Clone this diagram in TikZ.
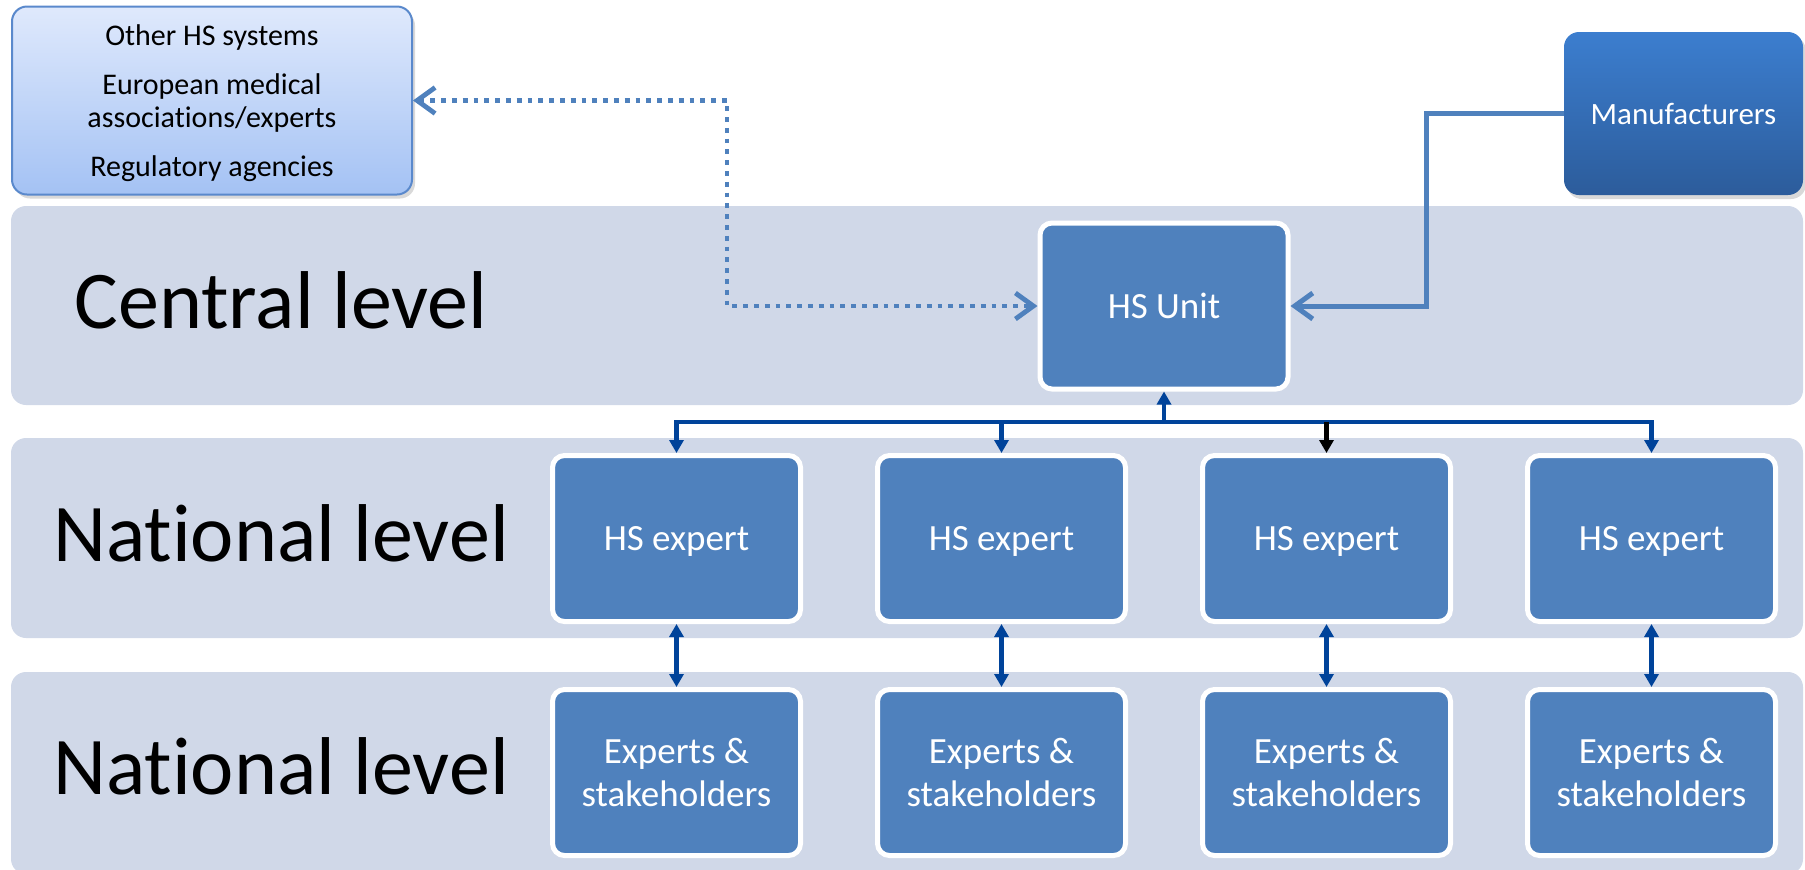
\documentclass[tikz,border=0pt]{standalone}
\usepackage{fontspec}
\setmainfont{Carlito}[Ligatures=NoCommon]
\usetikzlibrary{positioning,arrows.meta,shadows}

\definecolor{bandgrey}{HTML}{D0D8E8}
\definecolor{hsblue}{HTML}{4F81BD}
\definecolor{busblue}{HTML}{00439A}
\definecolor{othertop}{HTML}{DFE9FC}
\definecolor{otherbottom}{HTML}{A4C2F4}
\definecolor{otherline}{HTML}{5A89CC}
\definecolor{manutop}{HTML}{3C7ECF}
\definecolor{manubottom}{HTML}{2C5C9B}

\begin{document}
\begin{tikzpicture}[
    x=0.5pt, y=-0.5pt,
    band/.style={fill=bandgrey, rounded corners=7.5pt},
    level/.style={anchor=base, text=black, font=\fontsize{41}{49}\selectfont},
    hsbox/.style={draw=white, line width=2.5pt, fill=hsblue, text=white, rounded corners=6pt,
        minimum width=124pt, minimum height=83pt, align=center, text depth=0pt,
        font=\fontsize{18.5}{21.5}\selectfont},
    others/.style={draw=otherline, line width=1pt, top color=othertop, bottom color=otherbottom,
        rounded corners=7.5pt, minimum width=200pt, minimum height=94pt, align=center,
        text depth=0pt, font=\fontsize{15}{16.5}\selectfont,
        drop shadow={opacity=0.3, shadow xshift=1.5pt, shadow yshift=-2pt}},
    manu/.style={top color=manutop, bottom color=manubottom, text=white, rounded corners=7.5pt,
        minimum width=119.5pt, minimum height=81.5pt, font=\fontsize{15.5}{18}\selectfont,
        drop shadow={opacity=0.3, shadow xshift=1.5pt, shadow yshift=-2pt}},
    busline/.style={draw=busblue, line width=2.3pt},
    tip/.style={-{Triangle[width=7pt,length=6.5pt]}},
    twotip/.style={{Triangle[width=7pt,length=6.5pt]}-{Triangle[width=7pt,length=6.5pt]}},
    dotline/.style={draw=hsblue, line width=2.4pt, dash pattern=on 2.4pt off 3pt,
        {Straight Barb[length=9pt,width=13pt]}-{Straight Barb[length=9pt,width=13pt]}},
    feedline/.style={draw=hsblue, line width=2.5pt, -{Straight Barb[length=9pt,width=13pt]}},
    node distance=31.5pt and 36pt
    ]
    \useasboundingbox (0,0) rectangle (1805,869);

    %% Levels
    \fill[band] (11,206) rectangle (1803,405);
    \fill[band] (11,438) rectangle (1803,638);
    \fill[band] (11,672) rectangle (1803,874);
    \node[level] (lcentral) at (281,328) {Central level};
    \node[level] (lnational) at (281,561) {National level};
    \node[level] (llocal) at (281,794) {National level};

    %% HS Unit, HS experts and stakeholders
    \node[hsbox] (unit) at (1164,306) {HS Unit};
    \node[hsbox] (exp1) at (676.5,538.5) {HS expert};
    \node[hsbox, right=of exp1] (exp2) {HS expert};
    \node[hsbox, right=of exp2] (exp3) {HS expert};
    \node[hsbox, right=of exp3] (exp4) {HS expert};
    \foreach \i in {1,...,4}
        \node[hsbox, below=of exp\i] (stk\i) {Experts \&\\stakeholders};

    %% Outside partners
    \node[others] (others) at (212,100.5) {Other HS systems\\[8pt]European medical\\associations/experts\\[8pt]Regulatory agencies};
    \node[manu] (manu) at (1683.5,113.5) {Manufacturers};

    %% Bus from the HS Unit down to the experts
    \coordinate (bus) at (1164,422);
    \draw[busline, tip] (bus) -- (unit.south);
    \foreach \i in {1,2,4}
        \draw[busline, tip] (bus) -| (exp\i.north);
    \draw[busline] (bus) -- (bus -| exp3.north);
    \draw[busline, draw=black, tip] (bus -| exp3.north) -- (exp3.north);
    \foreach \i in {1,...,4}
        \draw[busline, twotip] (exp\i.south) -- (stk\i.north);

    %% Links with the outside
    \draw[dotline] (others.east) -- ++(314,0) |- (unit.west);
    \draw[feedline] (manu.west) -- ++(-137,0) |- (unit.east);
\end{tikzpicture}
\end{document}
